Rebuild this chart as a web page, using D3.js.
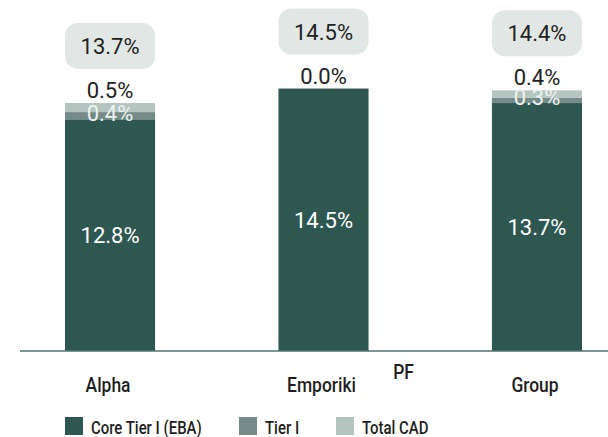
<!DOCTYPE html>
<html><head><meta charset="utf-8">
<script src="https://cdn.jsdelivr.net/npm/d3@7"></script>
<style>
html,body{margin:0;padding:0;background:#fff;}
svg{display:block;}
.num{font-family:Roboto,"Noto Sans",sans-serif;}
.cond{font-family:Roboto,"Noto Sans",sans-serif;font-weight:500;}
</style>
</head><body>
<script>
const categories = ["Alpha", "Emporiki PF", "Group"];
const coreTier1 = [12.8, 14.5, 13.7];
const tier1 = [0.4, 0.0, 0.3];
const totalCad = [0.5, 0.0, 0.4];
const totals = [13.7, 14.5, 14.4];
const seriesNames = ["Core Tier I (EBA)", "Tier I", "Total CAD"];
const colors = ["#2e5751", "#758c86", "#b4c4bf"];

const W = 608, H = 437;
const svg = d3.select("body").append("svg").attr("width", W).attr("height", H);

const x = d3.scaleBand().domain(categories).range([65, 582]).paddingInner(0.578).paddingOuter(0);
const y = d3.scaleLinear().domain([0, 15]).range([351, 351 - 15 * 18.1]);

const rows = categories.map((c, i) => ({cat: c, vals: [coreTier1[i], tier1[i], totalCad[i]], total: totals[i]}));
const keys = [0, 1, 2];
const stack = d3.stack().keys(keys).value((d, k) => d.vals[k]);
const stacked = stack(rows);

const g = svg.append("g");
stacked.forEach((layer, li) => {
  g.selectAll(null).data(layer).enter().append("rect")
    .attr("x", d => x(d.data.cat))
    .attr("width", x.bandwidth())
    .attr("y", d => y(d[1]))
    .attr("height", d => y(d[0]) - y(d[1]))
    .attr("fill", colors[li]);
});

const FS = 22;
// core labels (white, centered)
g.selectAll(null).data(stacked[0]).enter().append("text")
  .attr("class", "num")
  .attr("x", d => x(d.data.cat) + x.bandwidth() / 2)
  .attr("y", d => (y(d[0]) + y(d[1])) / 2 + 8)
  .attr("text-anchor", "middle").attr("font-size", FS).attr("fill", "#ffffff")
  .text(d => d.data.vals[0].toFixed(1) + "%");

// tier I labels (white, centered in small segment)
g.selectAll(null).data(stacked[1].filter(d => d.data.vals[1] > 0)).enter().append("text")
  .attr("class", "num")
  .attr("x", d => x(d.data.cat) + x.bandwidth() / 2)
  .attr("y", d => (y(d[0]) + y(d[1])) / 2 + 5)
  .attr("text-anchor", "middle").attr("font-size", FS).attr("fill", "#eef2f0")
  .text(d => d.data.vals[1].toFixed(1) + "%");

// total CAD labels above bar
g.selectAll(null).data(stacked[2]).enter().append("text")
  .attr("class", "num")
  .attr("x", d => x(d.data.cat) + x.bandwidth() / 2)
  .attr("y", d => y(d[1]) - 5)
  .attr("text-anchor", "middle").attr("font-size", FS).attr("fill", "#222")
  .text(d => d.data.vals[2].toFixed(1) + "%");

// total bubbles
const bub = g.selectAll(null).data(rows).enter().append("g");
bub.append("rect")
  .attr("x", d => x(d.cat))
  .attr("width", x.bandwidth())
  .attr("y", d => y(d.total) - 34 - 46)
  .attr("height", 46)
  .attr("rx", 13).attr("ry", 13)
  .attr("fill", "#e1e7e4");
bub.append("text")
  .attr("class", "num")
  .attr("x", d => x(d.cat) + x.bandwidth() / 2)
  .attr("y", d => y(d.total) - 34 - 23 + 8)
  .attr("text-anchor", "middle").attr("font-size", FS).attr("fill", "#222")
  .text(d => d.total.toFixed(1) + "%");

// axis line
svg.append("line").attr("x1", 20).attr("x2", W).attr("y1", 351).attr("y2", 351)
  .attr("stroke", "#4f7570").attr("stroke-width", 1.6);

// category labels (condensed look)
function condText(sel, tx, ty, size, anchor, str) {
  return sel.append("text").attr("class", "cond")
    .attr("transform", `translate(${tx},${ty}) scale(0.83,1)`)
    .attr("text-anchor", anchor).attr("font-size", size).attr("fill", "#1e1e1e")
    .text(str);
}
categories.forEach(c => {
  const parts = c.split(" ");
  const cx = x(c) + x.bandwidth() / 2;
  condText(svg, cx - 2, 392, 21, "middle", parts[0]);
  if (parts.length > 1) condText(svg, cx + 80, 379, 21, "middle", parts.slice(1).join(" "));
});

// legend
const legX = [65, 239, 336];
const leg = svg.selectAll(null).data(seriesNames).enter().append("g")
  .attr("transform", (d, i) => `translate(${legX[i]},417)`);
leg.append("rect").attr("width", 18).attr("height", 18).attr("fill", (d, i) => colors[i]);
leg.each(function(d) { condText(d3.select(this), 26, 17, 18, "start", d); });
</script>
</body></html>
